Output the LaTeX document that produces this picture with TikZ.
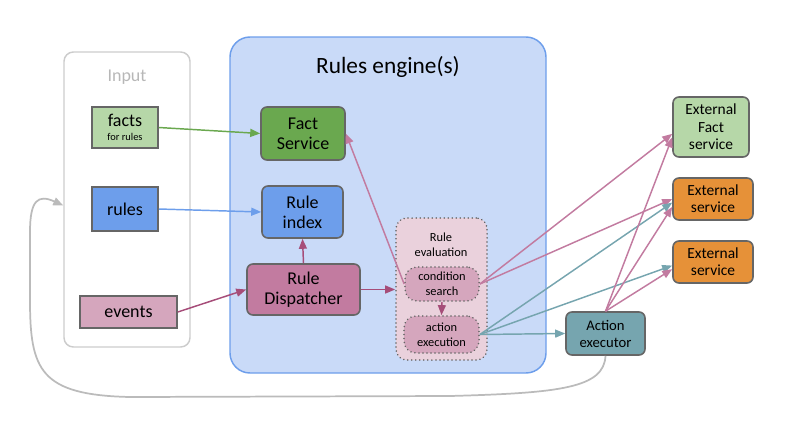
\documentclass[tikz,border=0pt]{standalone}
\usepackage{fontspec}
\setmainfont{Carlito}
\usetikzlibrary{arrows.meta}

\definecolor{boxgray}{HTML}{666666}
\definecolor{inputgray}{HTML}{CCCCCC}
\definecolor{inputtext}{HTML}{B7B7B7}
\definecolor{engfill}{HTML}{C9DAF8}
\definecolor{engline}{HTML}{6D9EEB}
\definecolor{lgreen}{HTML}{B6D7A8}
\definecolor{dgreen}{HTML}{6AA84F}
\definecolor{mblue}{HTML}{6D9EEB}
\definecolor{mpink}{HTML}{C27BA0}
\definecolor{lpink}{HTML}{D5A6BD}
\definecolor{evalfill}{HTML}{EAD1DC}
\definecolor{dpink}{HTML}{A64D79}
\definecolor{tealc}{HTML}{76A5AF}
\definecolor{orangec}{HTML}{E69138}
\definecolor{loopgray}{HTML}{BBBBBB}

\tikzset{every picture/.style={line width=0.75pt}}

\begin{document}
\begin{tikzpicture}[x=0.75pt,y=0.75pt,yscale=-1,xscale=1,
  bigfont/.style={font=\fontsize{13.5}{15}\selectfont},
  inbox/.style={draw=boxgray, line width=1.2pt, inner sep=0pt, align=center, bigfont},
  rbox/.style={inbox, rounded corners=4.5pt},
  dotbox/.style={draw=boxgray, line width=1.3pt, dash pattern=on 0.01pt off 3pt, line cap=round, inner sep=0pt, align=center},
  arr/.style={-{Triangle[length=7.5pt,width=6pt]}, line width=1.1pt}]
%set diagram size to the 787 x 421 canvas
\useasboundingbox (0,0) rectangle (787,421);

% containers
\draw (127,199.5) node (input) [draw=inputgray, line width=1.1pt, rounded corners=7pt, minimum width=94.5pt, minimum height=221.25pt] {};
\draw (388,205) node (engine) [draw=engline, fill=engfill, line width=1.1pt, rounded corners=15pt, minimum width=237pt, minimum height=252pt] {};
\draw (127,77) node (inputlbl) [text=inputtext, font=\fontsize{13.5}{15}\selectfont] {Input};
\draw (388,67) node (enginelbl) [font=\fontsize{17.5}{20}\selectfont] {Rules engine(s)};

% inputs
\draw (125,127.5) node (facts) [inbox, fill=lgreen, minimum width=49.5pt, minimum height=30.75pt] {facts\\[-4pt]{\fontsize{7.8}{9}\selectfont for rules}};
\draw (125,209) node (rules) [inbox, fill=mblue, minimum width=49.5pt, minimum height=33pt] {rules};
\draw (128.5,312) node (events) [inbox, fill=lpink, minimum width=72.75pt, minimum height=24pt] {events};

% engine parts
\draw (303,133.5) node (fserv) [rbox, fill=dgreen, minimum width=63pt, minimum height=39.75pt] {Fact\\Service};
\draw (302.5,212) node (rindex) [rbox, fill=mblue, minimum width=60.75pt, minimum height=39pt] {Rule\\index};
\draw (303.5,289.5) node (disp) [rbox, fill=mpink, minimum width=84.75pt, minimum height=38.25pt] {Rule\\Dispatcher};

% rule evaluation
\draw (441.5,289) node (eval) [dotbox, fill=evalfill, rounded corners=8pt, minimum width=68.25pt, minimum height=106.5pt] {};
\draw (441,245) node (evallbl) [align=center, font=\fontsize{9.3}{11}\selectfont] {Rule\\evaluation};
\draw (442,284) node (cond) [dotbox, fill=lpink, rounded corners=9pt, minimum width=55.5pt, minimum height=25.5pt, font=\fontsize{9.3}{11}\selectfont] {condition\\search};
\draw (441.5,334.5) node (act) [dotbox, fill=lpink, rounded corners=9pt, minimum width=56.25pt, minimum height=27.75pt, font=\fontsize{9.3}{11}\selectfont] {action\\execution};

% outside
\draw (605.5,333.5) node (exec) [rbox, fill=tealc, minimum width=59.25pt, minimum height=32.25pt, font=\fontsize{11}{12.75}\selectfont] {Action\\executor};
\draw (711,127) node (extfact) [rbox, fill=lgreen, minimum width=57pt, minimum height=45pt, font=\fontsize{11.6}{13}\selectfont] {External\\Fact\\service};
\draw (713,199) node (ext1) [rbox, fill=orangec, minimum width=60pt, minimum height=31.5pt, font=\fontsize{11.6}{13}\selectfont] {External\\service};
\draw (713,262) node (ext2) [rbox, fill=orangec, minimum width=60pt, minimum height=31.5pt, font=\fontsize{11.6}{13}\selectfont] {External\\service};

% arrows
\draw [arr, color=dgreen] (facts.east) -- (fserv.west);
\draw [arr, color=mblue] (rules.east) -- (rindex.west);
\draw [arr, color=dpink] (events.east) -- (disp.west);
\draw [arr, color=dpink] (disp.north) -- (rindex.south);
\draw [arr, color=dpink] (disp.east) -- (eval.west |- disp.east);
\draw [arr, color=dpink] (cond.south) -- (act.north);
\draw [arr, color=mpink] (cond.west) -- (fserv.east);

\draw [arr, color=mpink] (cond.east) -- (extfact.190);
\draw [arr, color=mpink] (cond.east) -- (ext1.west);
\draw [arr, color=tealc] (act.east) -- (ext1.185);
\draw [arr, color=tealc] (act.east) -- (ext2.185);
\draw [arr, color=tealc] (act.east) -- (exec.west);

\draw [arr, color=mpink] (exec.north) -- (extfact.195);
\draw [arr, color=mpink] (exec.north) -- (ext1.191);
\draw [arr, color=mpink] (exec.north) -- (ext2.190);

% feedback loop
\draw [arr, color=loopgray, line width=1.3pt] (exec.south) .. controls (604,388) and (560,393) .. (450,396) -- (130,397) .. controls (40,395) and (30,370) .. (30,300) -- (30,232) .. controls (30,200) and (38,194) .. ([yshift=4.5pt]input.west);

\end{tikzpicture}
\end{document}
